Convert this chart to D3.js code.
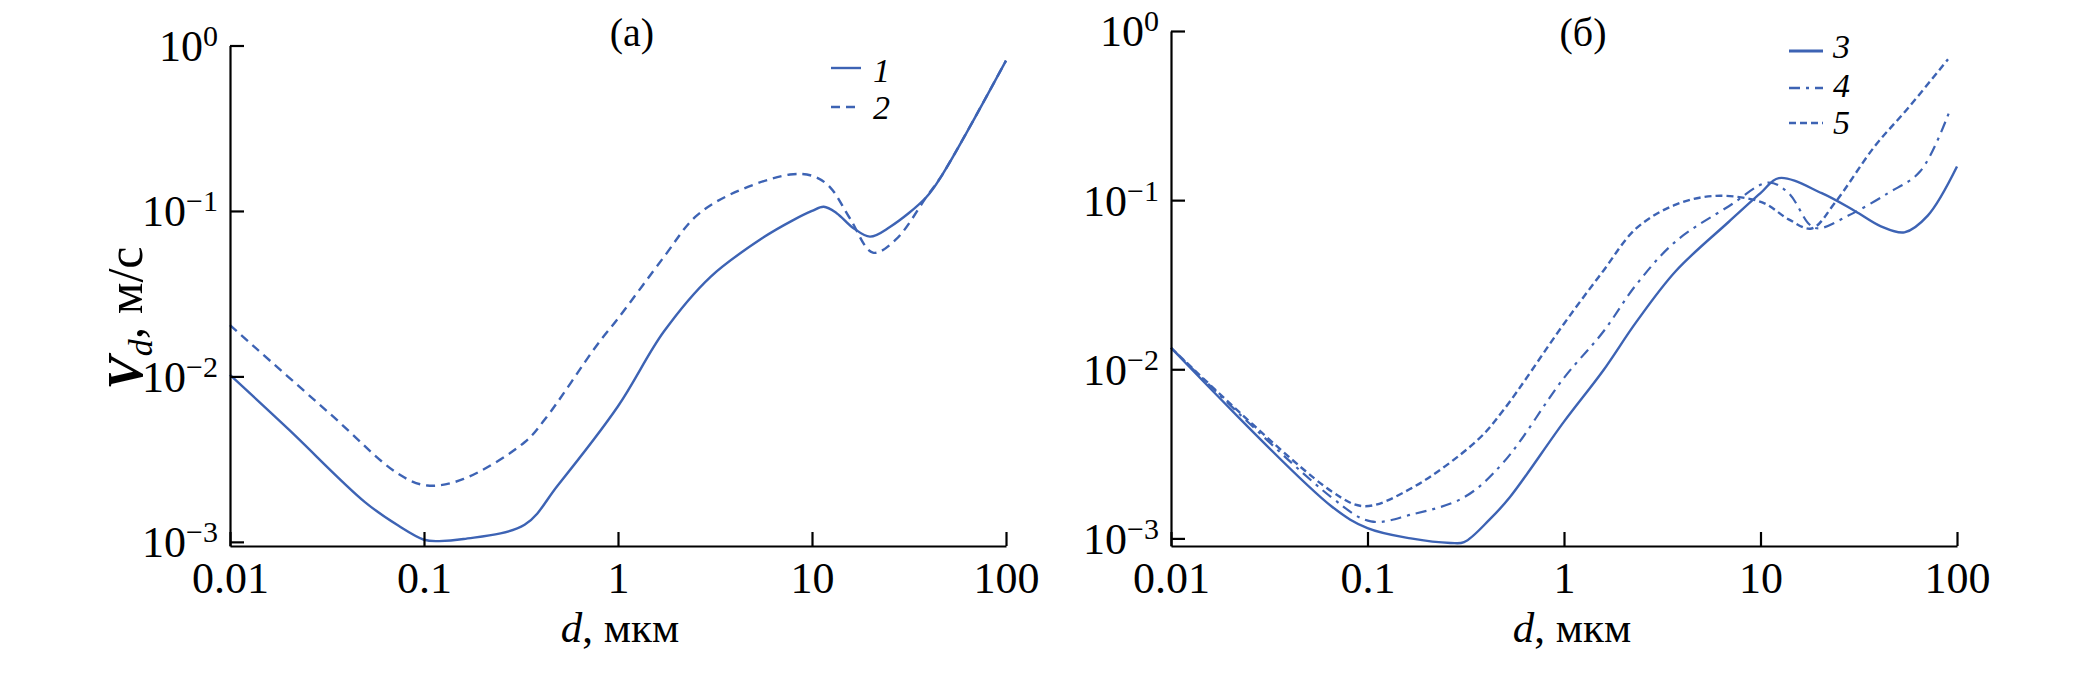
<!DOCTYPE html>
<html><head><meta charset="utf-8">
<script src="https://d3js.org/d3.v7.min.js"></script>
<style>
html,body{margin:0;padding:0;background:#fff;}
svg{display:block;}
text{font-family:"Liberation Serif","Times New Roman",serif;fill:#000;}
</style></head>
<body>
<script>
// ---- data ----
const xTicks = [0.01, 0.1, 1, 10, 100];
const xTickLabels = ["0.01", "0.1", "1", "10", "100"];
const yTicks = [1, 0.1, 0.01, 0.001];
const yTickExps = ["0", "\u22121", "\u22122", "\u22123"];
const panelTitles = ["(a)", "(б)"];
const legendA = ["1", "2"];
const legendB = ["3", "4", "5"];

// panel (a) curve 1 (solid)
const d1 = [0.01, 0.02, 0.0496, 0.074, 0.1, 0.118, 0.16, 0.33, 0.49, 1, 1.72, 3.0, 5.6, 8, 10, 11.5, 13.4, 16.3, 19.9, 25.2, 38.8, 47, 100];
const v1 = [0.0102, 0.0048, 0.00174, 0.00125, 0.00103, 0.00101, 0.00104, 0.00127, 0.0022, 0.0066, 0.0186, 0.040, 0.069, 0.088, 0.100, 0.106, 0.097, 0.079, 0.070, 0.080, 0.121, 0.166, 0.81];
// panel (a) curve 2 (dashed)
const d2 = [0.01, 0.033, 0.074, 0.104, 0.16, 0.33, 0.42, 0.78, 1, 1.72, 2.5, 3.8, 7.7, 10.2, 12.4, 15.7, 20.6, 27, 38.8, 47, 100];
const v2 = [0.0204, 0.0059, 0.00257, 0.00219, 0.0024, 0.0040, 0.0055, 0.0155, 0.0224, 0.0525, 0.092, 0.126, 0.166, 0.162, 0.139, 0.090, 0.056, 0.067, 0.121, 0.166, 0.81];
// panel (б) curve 3 (solid)
const d3v = [0.01, 0.0655, 0.1, 0.166, 0.265, 0.31, 0.42, 0.53, 1, 1.58, 2.33, 3.7, 6.9, 10, 12.4, 20.5, 30.2, 41, 54, 71, 100];
const v3 = [0.0134, 0.00155, 0.00115, 0.00100, 0.00094, 0.00095, 0.0013, 0.00175, 0.0049, 0.0098, 0.019, 0.038, 0.0745, 0.110, 0.135, 0.110, 0.0863, 0.070, 0.0645, 0.081, 0.158];
// panel (б) curve 4 (dash-dot)
const d4 = [0.01, 0.0655, 0.104, 0.166, 0.31, 0.49, 1, 1.58, 2.33, 3.7, 6.9, 11, 13.9, 17.7, 19.7, 28, 44.6, 65, 92];
const v4 = [0.0134, 0.00175, 0.00126, 0.00138, 0.00175, 0.0028, 0.0089, 0.0166, 0.0316, 0.057, 0.092, 0.127, 0.110, 0.072, 0.068, 0.081, 0.110, 0.148, 0.34];
// panel (б) curve 5 (short dash)
const d5 = [0.01, 0.0655, 0.0966, 0.166, 0.36, 0.49, 1, 1.58, 2.33, 3.7, 5.9, 10.2, 13.9, 18.2, 24, 38, 56, 90];
const v5 = [0.0134, 0.0019, 0.00155, 0.00197, 0.00378, 0.0057, 0.0186, 0.038, 0.068, 0.094, 0.106, 0.097, 0.077, 0.068, 0.097, 0.207, 0.347, 0.68];

// ---- drawing ----
const W = 2079, H = 683;
const BLUE = "#3d63b4";
const FONT = "Liberation Serif, Times New Roman, serif";
const svg = d3.select("body").append("svg").attr("width", W).attr("height", H);

const panels = [
  {x0: 230, x1: 1006, yTop: 45.5, yBot: 546, lo: -3.025, title: panelTitles[0], titleX: 632, xlabX: 620,
   series: [{d: d1, v: v1, dash: null, label: legendA[0], lw: 2.4},
            {d: d2, v: v2, dash: "9,6", label: legendA[1], lw: 2.4}],
   leg: {x0: 831, x1: 861, lx: 873, ys: [68, 107], bs: [82, 119]}, ylab: true},
  {x0: 1171, x1: 1957, yTop: 31, yBot: 546, lo: -3.045, title: panelTitles[1], titleX: 1583, xlabX: 1572,
   series: [{d: d3v, v: v3, dash: null, label: legendB[0], lw: 2.4},
            {d: d4, v: v4, dash: "11,6,3,6", label: legendB[1], lw: 2.2},
            {d: d5, v: v5, dash: "7,4", label: legendB[2], lw: 2.4}],
   leg: {x0: 1789, x1: 1823, lx: 1833, ys: [51, 88, 123], bs: [58, 97, 134]}, ylab: false}
];

panels.forEach(p => {
  const x = d3.scaleLog().domain([0.01, 100]).range([p.x0, p.x1]);
  const y = d3.scaleLog().domain([Math.pow(10, p.lo), 1]).range([p.yBot, p.yTop]);
  const g = svg.append("g");

  // curves
  const line = d3.line().x(d => x(d[0])).y(d => y(d[1])).curve(d3.curveCatmullRom.alpha(0.5));
  p.series.forEach(s => {
    const pts = s.d.map((dd, i) => [dd, s.v[i]]);
    g.append("path").attr("d", line(pts)).attr("fill", "none").attr("stroke", BLUE)
      .attr("stroke-width", s.lw).attr("stroke-dasharray", s.dash).attr("stroke-linejoin", "round");
  });

  // x axis
  const xa = d3.axisBottom(x).tickValues(xTicks).tickSizeInner(-14).tickSizeOuter(0)
    .tickFormat((d, i) => xTickLabels[i]);
  const gx = g.append("g").attr("transform", `translate(0,${p.yBot})`).call(xa);
  // y axis
  const ya = d3.axisLeft(y).tickValues(yTicks).tickSizeInner(-14).tickSizeOuter(0).tickFormat(() => "");
  const gy = g.append("g").attr("transform", `translate(${p.x0},0)`).call(ya);

  [gx, gy].forEach(ax => {
    ax.attr("font-family", FONT);
    ax.select(".domain").attr("stroke", "#000").attr("stroke-width", 2.2);
    ax.selectAll(".tick line").attr("stroke", "#000").attr("stroke-width", 2.2);
  });
  gx.selectAll(".tick text").attr("y", 47).attr("dy", 0).attr("font-size", 44)
    .attr("fill", "#000");
  gy.selectAll(".tick text").each(function(d, i) {
    const t = d3.select(this);
    t.attr("x", -12).attr("dy", "0.34em").attr("font-size", 44)
      .attr("fill", "#000").attr("text-anchor", "end");
    t.append("tspan").text("10");
    t.append("tspan").attr("dy", -15).attr("font-size", 30).text(yTickExps[i]);
  });

  // title
  g.append("text").attr("x", p.titleX).attr("y", 46).attr("text-anchor", "middle")
    .attr("font-size", 40).text(p.title);

  // x label
  const xl = g.append("text").attr("x", p.xlabX).attr("y", 642).attr("text-anchor", "middle").attr("font-size", 43);
  xl.append("tspan").attr("font-style", "italic").text("d");
  xl.append("tspan").text(", мкм");

  // y label
  if (p.ylab) {
    const yl = g.append("text").attr("transform", "translate(142,318) rotate(-90)")
      .attr("text-anchor", "middle").attr("font-size", 50).attr("font-weight", "bold");
    yl.append("tspan").attr("font-style", "italic").text("V");
    yl.append("tspan").attr("font-style", "italic").attr("font-weight", "normal").attr("font-size", 34).attr("dy", 10).text("d");
    yl.append("tspan").attr("dy", -10).attr("font-weight", "normal").text(", м/с");
  }

  // legend
  p.series.forEach((s, i) => {
    g.append("line").attr("x1", p.leg.x0).attr("x2", p.leg.x1).attr("y1", p.leg.ys[i]).attr("y2", p.leg.ys[i])
      .attr("stroke", BLUE).attr("stroke-width", i === 0 && p.series.length === 3 ? 3.2 : 2.4)
      .attr("stroke-dasharray", s.dash);
    g.append("text").attr("x", p.leg.lx).attr("y", p.leg.bs[i]).attr("font-size", 34)
      .attr("font-style", "italic").text(s.label);
  });
});
</script>
</body></html>
